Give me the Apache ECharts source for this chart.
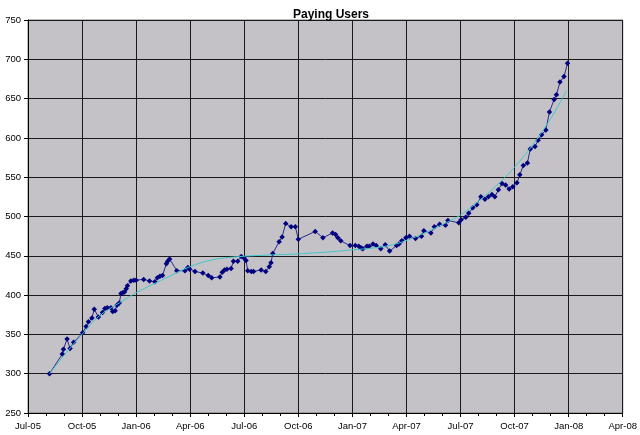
<!DOCTYPE html>
<html>
<head>
<meta charset="utf-8">
<script src="https://cdn.jsdelivr.net/npm/echarts@6/dist/echarts.min.js"></script>
<style>
  html,body{margin:0;padding:0;background:#fff}
  #chart{width:640px;height:435px}
</style>
</head>
<body>
<div id="chart"></div>
<script>
  // dates and paying users
  var dates = [
    '2005-08-07','2005-08-29','2005-08-31','2005-09-06','2005-09-11','2005-09-17','2005-10-02','2005-10-08','2005-10-12','2005-10-18',
    '2005-10-22','2005-10-29','2005-11-05','2005-11-09','2005-11-13','2005-11-19','2005-11-22','2005-11-26','2005-11-29','2005-12-03',
    '2005-12-06','2005-12-09','2005-12-12','2005-12-15','2005-12-17','2005-12-23','2005-12-28','2006-01-01','2006-01-14','2006-01-24',
    '2006-02-02','2006-02-06','2006-02-10','2006-02-14','2006-02-20','2006-02-22','2006-02-25','2006-03-09','2006-03-23','2006-03-28',
    '2006-03-31','2006-04-09','2006-04-22','2006-05-01','2006-05-07','2006-05-21','2006-05-25','2006-05-29','2006-06-02','2006-06-09',
    '2006-06-13','2006-06-20','2006-06-26','2006-07-01','2006-07-04','2006-07-07','2006-07-13','2006-07-17','2006-07-30','2006-08-07',
    '2006-08-13','2006-08-16','2006-08-19','2006-08-30','2006-09-04','2006-09-10','2006-09-19','2006-09-26','2006-10-01','2006-10-30',
    '2006-11-12','2006-11-28','2006-12-03','2006-12-07','2006-12-12','2006-12-28','2007-01-06','2007-01-12','2007-01-16','2007-01-19',
    '2007-01-26','2007-01-30','2007-02-05','2007-02-10','2007-02-17','2007-02-24','2007-03-03','2007-03-15','2007-03-19','2007-03-24',
    '2007-03-31','2007-04-06','2007-04-16','2007-04-26','2007-04-30','2007-05-12','2007-05-18','2007-05-27','2007-06-06','2007-06-10',
    '2007-06-28','2007-07-02','2007-07-10','2007-07-15','2007-07-22','2007-07-29','2007-08-05','2007-08-12','2007-08-18','2007-08-24',
    '2007-08-29','2007-09-04','2007-09-10','2007-09-16','2007-09-22','2007-09-28','2007-10-05','2007-10-10','2007-10-16','2007-10-23',
    '2007-10-28','2007-11-05','2007-11-10','2007-11-16','2007-11-23','2007-11-29','2007-12-07','2007-12-11','2007-12-17','2007-12-24',
    '2007-12-30'
  ]
  var users = [
    300,325,331,344,332,340,352,360,366,371,
    382,372,378,383,384,384,379,380,387,390,
    402,403,404,408,412,418,419,419,420,418,
    417,422,424,425,440,443,446,431,431,435,
    433,430,428,425,422,423,429,432,433,434,
    443,443,449,447,444,431,430,430,432,430,
    436,441,453,468,474,491,487,487,471,481,
    473,479,477,473,469,463,463,462,460,459,
    462,462,465,463,459,464,456,463,465,469,
    473,475,472,475,482,479,487,490,489,495,
    492,496,499,504,511,515,525,522,525,528,
    525,534,542,540,535,538,543,553,565,568,
    586,589,597,604,610,633,649,655,671,678,
    695
  ]
  // trendline (cyan), read at a few dates
  var trendDates = ['2005-08-07','2005-09-05','2005-10-02','2005-10-30','2005-12-03','2006-01-01','2006-01-28','2006-02-25','2006-03-31','2006-05-09',
    '2006-06-23','2006-08-13','2006-10-02','2006-11-22','2006-12-31','2007-02-06','2007-03-08','2007-04-06','2007-05-01','2007-05-27',
    '2007-06-29','2007-08-02','2007-09-10','2007-09-30','2007-10-26','2007-11-16','2007-12-08','2007-12-28']
  var trendUsers = [300,327,351,373,390,403,413,424,436,445,
    449,451,452.5,455,457.5,460,464,471,479,488,
    501,520,546,562,585,607,633,660]
  var tickLabels = ['Jul-05','Oct-05','Jan-06','Apr-06','Jul-06','Oct-06','Jan-07','Apr-07','Jul-07','Oct-07','Jan-08','Apr-08']

  // months since Jul 2005 (axis works in months)
  function monthPos(s){
    var p = s.split('-'), y = +p[0], m = +p[1], d = +p[2]
    var dim = new Date(Date.UTC(y, m, 0)).getUTCDate()
    return (y - 2005) * 12 + (m - 7) + (d - 1) / dim
  }
  var mainData = dates.map(function(d, i){ return [monthPos(d), users[i]] })
  var trendData = trendDates.map(function(d, i){ return [monthPos(d), trendUsers[i]] })

  var font = 'Arial, "Liberation Sans", sans-serif'
  var option = {
    backgroundColor: '#fff',
    animation: false,
    title: {
      text: 'Paying Users',
      left: 326, top: 4, textAlign: 'center',
      textStyle: {fontFamily: font, fontSize: 12, fontWeight: 'bold', color: '#000'}
    },
    grid: {
      left: 28, right: 16, top: 20, bottom: 22,
      show: true, backgroundColor: '#c4c2c7', borderColor: '#777', borderWidth: 1
    },
    xAxis: {
      type: 'value', min: 0, max: 33, interval: 3,
      axisLine: {show: true, lineStyle: {color: '#000', width: 1}},
      axisTick: {show: true, length: 4, lineStyle: {color: '#000'}},
      minorTick: {show: true, splitNumber: 3, length: 3, lineStyle: {color: '#000'}},
      splitLine: {show: true, lineStyle: {color: '#1a1a1a', width: 1}},
      axisLabel: {
        margin: 8, fontFamily: font, fontSize: 9.5, color: '#000',
        formatter: function(v){ return tickLabels[Math.round(v / 3)] }
      }
    },
    yAxis: {
      type: 'value', min: 250, max: 750, interval: 50,
      axisLine: {show: true, lineStyle: {color: '#000', width: 1}},
      axisTick: {show: true, length: 4, lineStyle: {color: '#000'}},
      splitLine: {show: true, lineStyle: {color: '#1a1a1a', width: 1}},
      axisLabel: {margin: 7, fontFamily: font, fontSize: 9.5, color: '#000'}
    },
    series: [
      {
        type: 'line', data: mainData,
        symbol: 'diamond', symbolSize: 5.5,
        itemStyle: {color: '#000080'},
        lineStyle: {color: '#2a2a90', width: 1},
        z: 3
      },
      {
        type: 'line', data: trendData, smooth: 0.4,
        symbol: 'none',
        lineStyle: {color: '#40c8c8', width: 1},
        z: 4
      }
    ]
  }
  var chartObj = echarts.init(document.getElementById('chart'))
  chartObj.setOption(option)
</script>
</body>
</html>
